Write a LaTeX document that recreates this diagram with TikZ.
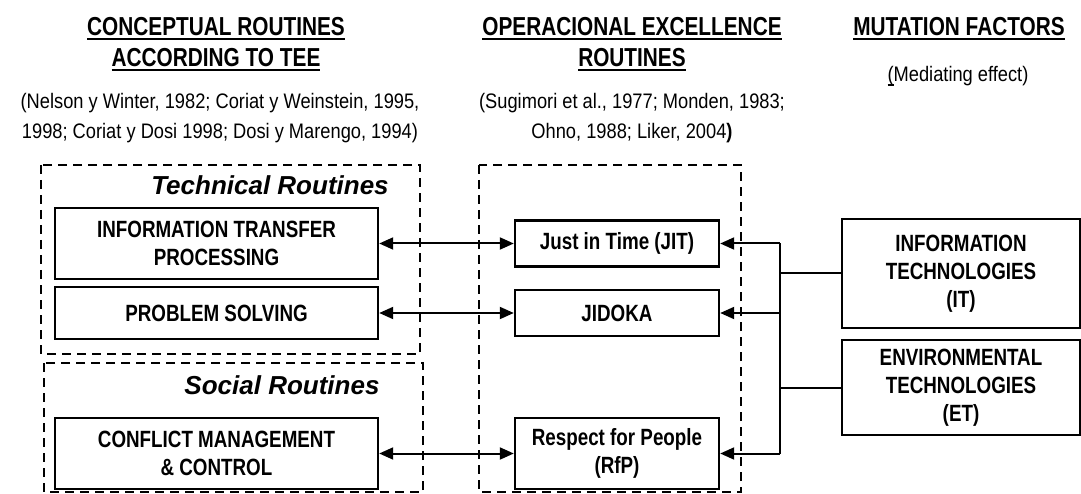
\documentclass[tikz,border=0pt]{standalone}
\usepackage{fontspec}
\setmainfont{Liberation Sans}
\newfontfamily\narrowfont{Liberation Sans}[FakeStretch=0.80]
\newfontfamily\citefont{Liberation Sans}[FakeStretch=0.87]
\usetikzlibrary{arrows.meta}
% underline drawn as a rule of fixed weight just below the baseline
\newsavebox\ulsave
\newcommand\ulbox[1]{\sbox\ulsave{#1}\rlap{\rule[-4.5pt]{\wd\ulsave}{2pt}}\usebox\ulsave}

\begin{document}
\begin{tikzpicture}[x=1pt,y=-1pt,
  header/.style={anchor=base, inner sep=0pt, font=\narrowfont\bfseries\fontsize{26}{30}\selectfont},
  cite/.style={anchor=base, inner sep=0pt, font=\citefont\fontsize{21}{25}\selectfont},
  grouptitle/.style={anchor=base, inner sep=0pt, font=\bfseries\itshape\fontsize{26}{30}\selectfont},
  routine/.style={draw, line width=2.4pt, inner sep=0pt, align=center,
    font=\narrowfont\bfseries\fontsize{23.5}{28}\selectfont},
  groupbox/.style={draw, line width=2.2pt, dash pattern=on 9pt off 6pt},
  link/.style={line width=2pt, -{Triangle[length=14pt,width=12pt]}},
  both/.style={line width=2pt, {Triangle[length=14pt,width=12pt]}-{Triangle[length=14pt,width=12pt]}},
  wire/.style={line width=2pt}
]
\useasboundingbox (0,0) rectangle (1081,494);

% column headings
\node[header] (h1a) at (216,36) {\ulbox{CONCEPTUAL ROUTINES}};
\node[header] (h1b) at (216,67) {\ulbox{ACCORDING TO TEE}};
\node[cite] (c1a) at (220,109) {(Nelson y Winter, 1982; Coriat y Weinstein, 1995,};
\node[cite] (c1b) at (220,139) {1998; Coriat y Dosi 1998; Dosi y Marengo, 1994)};

\node[header] (h2a) at (632,36) {\ulbox{OPERACIONAL EXCELLENCE}};
\node[header] (h2b) at (632,67) {\ulbox{ROUTINES}};
\node[cite] (c2a) at (632,109) {(Sugimori et al., 1977; Monden, 1983;};
\node[cite] (c2b) at (632,139) {Ohno, 1988; Liker, 2004{\bfseries)}};

\node[header] (h3) at (959,36) {\ulbox{MUTATION FACTORS}};
\node[cite] (c3) at (958,82) {\ulbox{(}Mediating effect)};

% dashed groups
\draw[groupbox] (41,165) rectangle (420,354);
\draw[groupbox] (44,363) rectangle (423,492);
\draw[groupbox] (479,165) rectangle (741,492);
\node[grouptitle] (tr) at (270,195) {Technical Routines};
\node[grouptitle] (sr) at (282,394) {Social Routines};

% conceptual routines
\node[routine, minimum width=323pt, minimum height=71pt] (info) at (216.5,243.5) {INFORMATION TRANSFER\\PROCESSING};
\node[routine, minimum width=323pt, minimum height=52pt] (ps) at (216.5,313) {PROBLEM SOLVING};
\node[routine, minimum width=323pt, minimum height=71pt] (cm) at (216.5,453.5) {CONFLICT MANAGEMENT\\\& CONTROL};

% operational excellence routines
\node[routine, minimum width=204pt, minimum height=46pt] (jit) at (617,243.5) {Just in Time (JIT)};
\node[routine, minimum width=204pt, minimum height=46pt] (jid) at (617,313) {JIDOKA};
\node[routine, minimum width=204pt, minimum height=71pt] (rfp) at (617,453.5) {Respect for People\\(RfP)};

% mutation factors
\node[routine, minimum width=238pt, minimum height=109pt] (it) at (961,273.5) {INFORMATION\\TECHNOLOGIES\\(IT)};
\node[routine, minimum width=238pt, minimum height=95pt] (et) at (961,387.5) {ENVIRONMENTAL\\TECHNOLOGIES\\(ET)};

% links between columns
\draw[both] (info) -- (jit);
\draw[both] (ps) -- (jid);
\draw[both] (cm) -- (rfp);

\coordinate (bus) at (780,0);
\draw[wire] (jit.east -| bus) -- (rfp.east -| bus);
\draw[wire] (it.west) -- (it.west -| bus);
\draw[wire] (et.west) -- (et.west -| bus);
\draw[link] (jit.east -| bus) -- (jit.east);
\draw[link] (jid.east -| bus) -- (jid.east);
\draw[link] (rfp.east -| bus) -- (rfp.east);
\end{tikzpicture}
\end{document}
